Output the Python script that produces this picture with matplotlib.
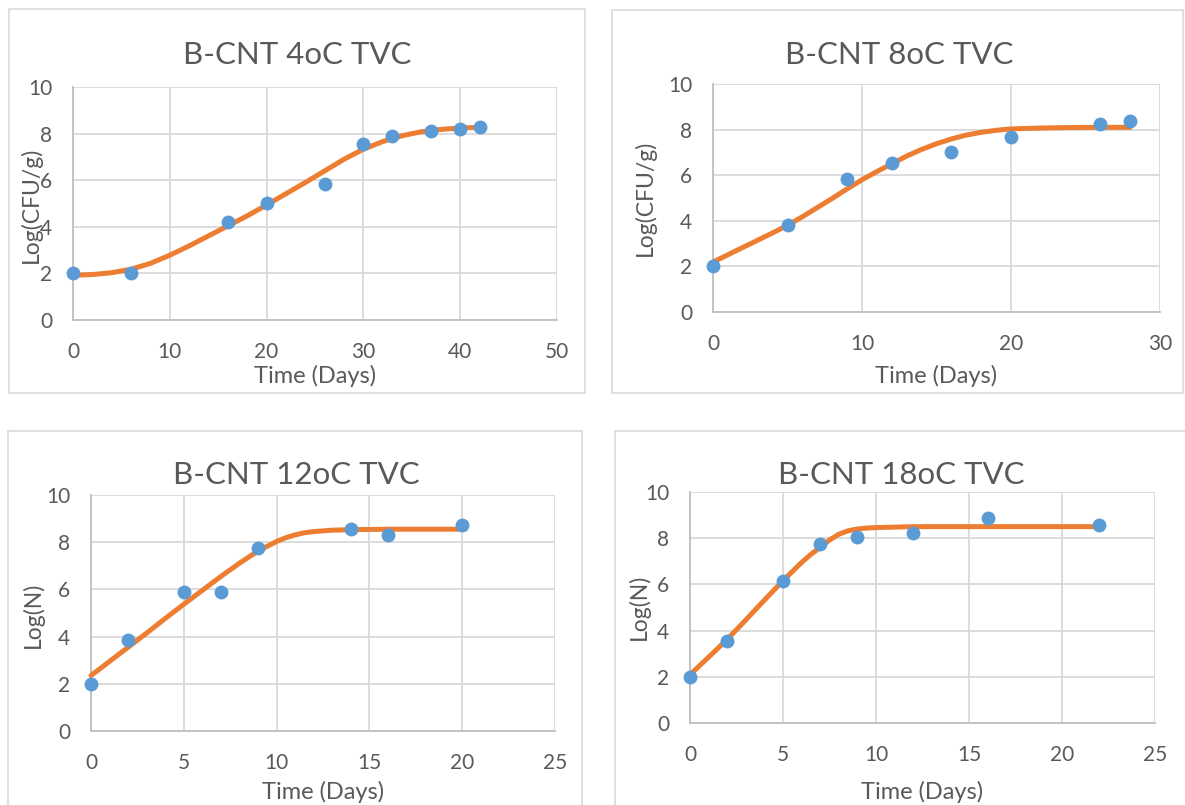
import matplotlib
matplotlib.use("Agg")
import matplotlib.pyplot as plt
from matplotlib.patches import Rectangle

W, H = 1185, 805

# ---------------- data ----------------
titles = ["B-CNT 4oC TVC", "B-CNT 8oC TVC", "B-CNT 12oC TVC", "B-CNT 18oC TVC"]
ylabels = ["Log(CFU/g)", "Log(CFU/g)", "Log(N)", "Log(N)"]
xlabel = "Time (Days)"

# 4 oC
obs4_x = [0, 6, 16, 20, 26, 30, 33, 37, 40, 42]
obs4_y = [2.0, 2.0, 4.22, 5.02, 5.85, 7.55, 7.9, 8.12, 8.2, 8.3]
fit4_x = [0, 2, 4, 6, 8, 10, 12, 14, 16, 18, 20, 22, 24, 26, 28, 30, 32, 34, 36, 38, 40, 42]
fit4_y = [1.92, 1.95, 2.03, 2.18, 2.43, 2.78, 3.18, 3.61, 4.04, 4.47, 4.94, 5.42, 5.9,
          6.4, 6.9, 7.33, 7.66, 7.91, 8.08, 8.18, 8.24, 8.27]

# 8 oC
obs8_x = [0, 5, 9, 12, 16, 20, 26, 28]
obs8_y = [2.0, 3.8, 5.85, 6.52, 7.03, 7.68, 8.25, 8.36]
fit8_x = [0, 2, 4, 5, 6, 7, 8, 9, 10, 11, 12, 13, 14, 15, 16, 17, 18, 19, 20, 22, 24, 26, 28]
fit8_y = [2.19, 2.83, 3.47, 3.8, 4.18, 4.58, 4.98, 5.4, 5.8, 6.16, 6.5, 6.84, 7.13, 7.38,
          7.59, 7.76, 7.88, 7.97, 8.03, 8.07, 8.09, 8.1, 8.1]

# 12 oC
obs12_x = [0, 2, 5, 7, 9, 14, 16, 20]
obs12_y = [2.0, 3.87, 5.88, 5.91, 7.75, 8.58, 8.31, 8.72]
fit12_x = [0, 1, 2, 3, 4, 5, 6, 7, 8, 9, 10, 10.5, 11, 11.5, 12, 13, 14, 16, 18, 20]
fit12_y = [2.35, 2.95, 3.55, 4.15, 4.77, 5.37, 5.96, 6.55, 7.11, 7.63, 8.03, 8.19, 8.31,
           8.4, 8.45, 8.51, 8.53, 8.55, 8.55, 8.55]

# 18 oC
obs18_x = [0, 2, 5, 7, 9, 12, 16, 22]
obs18_y = [2.0, 3.53, 6.16, 7.73, 8.06, 8.23, 8.88, 8.56]
fit18_x = [0, 1, 2, 3, 4, 5, 6, 6.5, 7, 7.5, 8, 8.5, 9, 9.5, 10, 11, 12, 14, 16, 18, 20, 22]
fit18_y = [2.09, 2.85, 3.62, 4.46, 5.32, 6.16, 6.95, 7.3, 7.6, 7.92, 8.17, 8.32, 8.4,
           8.44, 8.46, 8.48, 8.5, 8.5, 8.5, 8.5, 8.5, 8.5]

xmax = [50, 30, 25, 25]
xstep = [10, 10, 5, 5]

obs = [(obs4_x, obs4_y), (obs8_x, obs8_y), (obs12_x, obs12_y), (obs18_x, obs18_y)]
fits = [(fit4_x, fit4_y), (fit8_x, fit8_y), (fit12_x, fit12_y), (fit18_x, fit18_y)]

# ---------------- layout (pixels) ----------------
plot_px = [(73, 87, 557, 320), (713, 84, 1160, 312), (91, 495, 555, 731), (690, 492, 1155, 723)]
box_px = [(9, 9, 585, 393), (612, 10, 1183, 393), (8, 431, 582, 812), (615, 431, 1192, 812)]
title_px = [(297, 55), (899, 55), (296, 475), (901, 475)]
xlab_px = [(315, 376), (936, 376), (323, 792), (922, 792)]
ylab_px = [(31, 205), (645, 198), (33, 615), (639, 607)]

TEXT = "#595959"
GRID = "#d9d9d9"
AXIS = "#bfbfbf"
BLUE = "#5B9BD5"
ORANGE = "#ED7D31"

plt.rcParams["font.family"] = ["Lato", "DejaVu Sans"]

fig = plt.figure(figsize=(W / 100, H / 100), dpi=100)
fig.patch.set_facecolor("white")

def fx(px):
    return px / W

def fy(py):
    return 1 - py / H

for i in range(4):
    bl, bt, br, bb = box_px[i]
    fig.patches.append(Rectangle((fx(bl), fy(bb)), fx(br) - fx(bl), fy(bt) - fy(bb),
                                 transform=fig.transFigure, fill=False,
                                 edgecolor=GRID, linewidth=1.2, zorder=0))
    l, t, r, b = plot_px[i]
    ax = fig.add_axes([fx(l), fy(b), fx(r) - fx(l), fy(t) - fy(b)])
    ax.set_xlim(0, xmax[i])
    ax.set_ylim(0, 10)
    ax.set_xticks(range(0, xmax[i] + 1, xstep[i]))
    ax.set_yticks(range(0, 11, 2))
    ax.grid(True, color=GRID, linewidth=1.3)
    ax.set_axisbelow(True)
    for s in ["top", "right"]:
        ax.spines[s].set_visible(False)
    for s in ["left", "bottom"]:
        ax.spines[s].set_color(AXIS)
        ax.spines[s].set_linewidth(1.3)
    ax.tick_params(axis="both", length=0, labelsize=15, labelcolor=TEXT)
    ax.tick_params(axis="x", pad=16)
    ax.tick_params(axis="y", pad=15)

    fxs, fys = fits[i]
    ax.plot(fxs, fys, color=ORANGE, linewidth=3.6, solid_capstyle="round",
            solid_joinstyle="round", zorder=3, clip_on=False)
    oxs, oys = obs[i]
    ax.plot(oxs, oys, linestyle="none", marker="o", markersize=10, color=BLUE,
            markeredgewidth=0, zorder=4, clip_on=False)

    tx, ty = title_px[i]
    fig.text(fx(tx), fy(ty), titles[i], ha="center", va="center", fontsize=22.5, color=TEXT)
    lx, ly = xlab_px[i]
    fig.text(fx(lx), fy(ly), xlabel, ha="center", va="center", fontsize=17, color=TEXT)
    yx, yy = ylab_px[i]
    fig.text(fx(yx), fy(yy), ylabels[i], ha="center", va="center", fontsize=16.5,
             color=TEXT, rotation=90)

fig.savefig("out.png", dpi=100, facecolor="white")
